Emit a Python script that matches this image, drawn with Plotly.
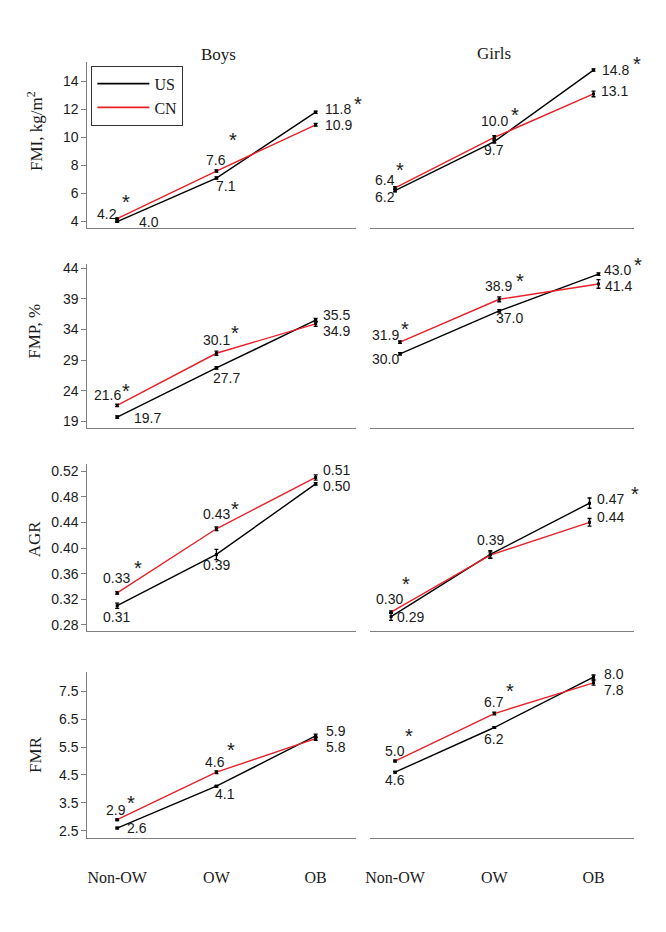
import plotly.graph_objects as go

# ---------------- data ----------------
categories = ["Non-OW", "OW", "OB"]
series_names = ["US", "CN"]

fmi_boys_us = [4.0, 7.1, 11.8]
fmi_boys_cn = [4.2, 7.6, 10.9]
fmi_girls_us = [6.2, 9.7, 14.8]
fmi_girls_cn = [6.4, 10.0, 13.1]

fmp_boys_us = [19.7, 27.7, 35.5]
fmp_boys_cn = [21.6, 30.1, 34.9]
fmp_girls_us = [30.0, 37.0, 43.0]
fmp_girls_cn = [31.9, 38.9, 41.4]

agr_boys_us = [0.31, 0.39, 0.50]
agr_boys_cn = [0.33, 0.43, 0.51]
agr_girls_us = [0.293, 0.390, 0.47]
agr_girls_cn = [0.300, 0.389, 0.44]

fmr_boys_us = [2.6, 4.1, 5.9]
fmr_boys_cn = [2.9, 4.6, 5.8]
fmr_girls_us = [4.6, 6.2, 8.0]
fmr_girls_cn = [5.0, 6.7, 7.8]

# error bar half-lengths
fmi_boys_us_err = [0.05, 0.08, 0.08]
fmi_boys_cn_err = [0.05, 0.08, 0.10]
fmi_girls_us_err = [0.08, 0.10, 0.08]
fmi_girls_cn_err = [0.08, 0.12, 0.20]

fmp_boys_us_err = [0.2, 0.2, 0.3]
fmp_boys_cn_err = [0.2, 0.35, 0.4]
fmp_girls_us_err = [0.2, 0.2, 0.2]
fmp_girls_cn_err = [0.2, 0.4, 0.7]

agr_boys_us_err = [0.004, 0.008, 0.002]
agr_boys_cn_err = [0.002, 0.003, 0.004]
agr_girls_us_err = [0.006, 0.006, 0.008]
agr_girls_cn_err = [0.002, 0.005, 0.006]

fmr_boys_us_err = [0.03, 0.03, 0.06]
fmr_boys_cn_err = [0.03, 0.05, 0.06]
fmr_girls_us_err = [0.03, 0.03, 0.08]
fmr_girls_cn_err = [0.03, 0.05, 0.08]

# significance flags (asterisks)
fmi_boys_sig = [1, 1, 1]
fmi_girls_sig = [1, 1, 1]
fmp_boys_sig = [1, 1, 0]
fmp_girls_sig = [1, 1, 1]
agr_boys_sig = [1, 1, 0]
agr_girls_sig = [1, 0, 1]
fmr_boys_sig = [1, 1, 0]
fmr_girls_sig = [1, 1, 0]

y_titles = ["FMI, kg/m<sup>2</sup>", "FMP, %", "AGR", "FMR"]
col_titles = ["Boys", "Girls"]

fmi_ticks = [4, 6, 8, 10, 12, 14]
fmp_ticks = [19, 24, 29, 34, 39, 44]
agr_ticks = [0.28, 0.32, 0.36, 0.40, 0.44, 0.48, 0.52]
fmr_ticks = [2.5, 3.5, 4.5, 5.5, 6.5, 7.5]

# ---------------- styles / layout config ----------------
COLORS = {"US": "#000000", "CN": "#e8202a"}
SANS = "Liberation Sans, Arial, sans-serif"
SERIF = "Liberation Serif, Times New Roman, serif"
AXIS_COLOR = "#7f7f7f"
TXT = "#1a1a1a"

PAGE_MARGIN = 8          # default body margin of the html page
W, H = 666 - 2 * PAGE_MARGIN, 932 - 2 * PAGE_MARGIN


def px_x(p):
    return (p - PAGE_MARGIN) / W


def px_y(p):
    return 1 - (p - PAGE_MARGIN) / H


col_px = [(83, 354), (368, 634)]
row_px = [(58, 225), (262, 427), (463, 631), (672, 839)]

rows = [
    dict(boys=(fmi_boys_us, fmi_boys_cn, fmi_boys_us_err, fmi_boys_cn_err, fmi_boys_sig),
         girls=(fmi_girls_us, fmi_girls_cn, fmi_girls_us_err, fmi_girls_cn_err, fmi_girls_sig),
         yrange=[3.57, 15.4], ticks=fmi_ticks, fmt="{:.0f}", dec=1),
    dict(boys=(fmp_boys_us, fmp_boys_cn, fmp_boys_us_err, fmp_boys_cn_err, fmp_boys_sig),
         girls=(fmp_girls_us, fmp_girls_cn, fmp_girls_us_err, fmp_girls_cn_err, fmp_girls_sig),
         yrange=[17.87, 44.6], ticks=fmp_ticks, fmt="{:.0f}", dec=1),
    dict(boys=(agr_boys_us, agr_boys_cn, agr_boys_us_err, agr_boys_cn_err, agr_boys_sig),
         girls=(agr_girls_us, agr_girls_cn, agr_girls_us_err, agr_girls_cn_err, agr_girls_sig),
         yrange=[0.2707, 0.531], ticks=agr_ticks, fmt="{:.2f}", dec=2),
    dict(boys=(fmr_boys_us, fmr_boys_cn, fmr_boys_us_err, fmr_boys_cn_err, fmr_boys_sig),
         girls=(fmr_girls_us, fmr_girls_cn, fmr_girls_us_err, fmr_girls_cn_err, fmr_girls_sig),
         yrange=[2.26, 8.2], ticks=fmr_ticks, fmt="{:.1f}", dec=1),
]

# x ranges per panel (row, col)
x_ranges = {
    (0, 0): [-0.30, 2.41], (1, 0): [-0.30, 2.41], (2, 0): [-0.30, 2.41], (3, 0): [-0.30, 2.41],
    (0, 1): [-0.25, 2.41], (1, 1): [-0.30, 2.36], (2, 1): [-0.21, 2.45], (3, 1): [-0.25, 2.41],
}

# value label placement: (anchor, dx px, dy px downward) per category
label_pos = {
    (0, 0): {"US": [("l", 22, 0), ("c", 10, 8), ("l", 9, -3)],
             "CN": [("c", -10, -5), ("c", 0, -11), ("l", 9, 0)],
             "star": [(9, -21), (17, -35), (42, -12)]},
    (0, 1): {"US": [("c", -10, 6), ("c", 0, 8), ("l", 8, 0)],
             "CN": [("c", -10, -8), ("c", 0, -16), ("l", 7, -3)],
             "star": [(5, -22), (21, -26), (43, -10)]},
    (1, 0): {"US": [("l", 17, 1), ("c", 10, 10), ("l", 7, -5)],
             "CN": [("c", -10, -10), ("c", 0, -13), ("l", 7, 7)],
             "star": [(9, -18), (19, -24), None]},
    (1, 1): {"US": [("c", -15, 5), ("c", 10, 7), ("l", 6, -4)],
             "CN": [("c", -15, -7), ("c", -1, -13), ("l", 7, 2)],
             "star": [(5, -17), (21, -22), (40, -13)]},
    (2, 0): {"US": [("c", -1, 11), ("c", 0, 11), ("l", 7, 2)],
             "CN": [("c", -1, -15), ("c", 0, -15), ("l", 7, -7)],
             "star": [(21, -29), (19, -24), None]},
    (2, 1): {"US": [("l", 6, 0), None, ("l", 7, -4)],
             "CN": [("c", -2, -13), ("c", 0, -15), ("l", 7, -5)],
             "star": [(15, -32), None, (45, -13)]},
    (3, 0): {"US": [("l", 10, 0), ("c", 9, 8), ("l", 10, -5)],
             "CN": [("c", -1, -10), ("c", -1, -10), ("l", 10, 8)],
             "star": [(14, -21), (15, -26), None]},
    (3, 1): {"US": [("c", 0, 8), ("c", 0, 11), ("l", 10, -3)],
             "CN": [("c", 0, -10), ("c", 0, -12), ("l", 10, 7)],
             "star": [(14, -29), (16, -27), None]},
}

y_title_px = [(30, 128), (30, 329), (30, 538), (30, 755)]
col_title_px = [(215, 51), (493, 50)]

# ---------------- build ----------------
fig = go.Figure()
layout = dict(width=W, height=H, margin=dict(l=0, r=0, t=0, b=0),
              paper_bgcolor="white", plot_bgcolor="white", showlegend=True)
annotations = []
xidx = list(range(len(categories)))

for r, rowcfg in enumerate(rows):
    for c, sex in enumerate(["boys", "girls"]):
        n = r * 2 + c + 1
        xa = "x" if n == 1 else f"x{n}"
        ya = "y" if n == 1 else f"y{n}"
        us, cn, us_e, cn_e, sig = rowcfg[sex]
        vals = {"US": us, "CN": cn}
        errs = {"US": us_e, "CN": cn_e}
        for name in series_names:
            fig.add_trace(go.Scatter(
                x=xidx, y=vals[name], mode="lines+markers", name=name,
                xaxis=xa, yaxis=ya, showlegend=False,
                line=dict(color=COLORS[name], width=1.4),
                marker=dict(symbol="square", size=3, color="#000000"),
                error_y=dict(type="data", array=errs[name], visible=True,
                             color="#000000", thickness=1.3, width=2),
                hoverinfo="skip"))
        # value labels
        pos = label_pos[(r, c)]
        for name in series_names:
            for i, v in enumerate(vals[name]):
                p = pos[name][i]
                if p is None:
                    continue
                anchor, dx, dy = p
                annotations.append(dict(
                    x=xidx[i], y=v, xref=xa, yref=ya, showarrow=False,
                    text=f"{v:.{rowcfg['dec']}f}",
                    xanchor={"l": "left", "c": "center", "r": "right"}[anchor],
                    yanchor="middle", xshift=dx, yshift=-dy,
                    borderpad=0, borderwidth=0,
                    font=dict(family=SANS, size=14, color=TXT)))
        # significance stars
        for i, s in enumerate(sig):
            if not s or pos["star"][i] is None:
                continue
            dx, dy = pos["star"][i]
            annotations.append(dict(
                x=xidx[i], y=max(us[i], cn[i]), xref=xa, yref=ya, showarrow=False,
                text="*", xanchor="center", yanchor="middle",
                xshift=dx, yshift=-dy - 4, borderpad=0, borderwidth=0,
                font=dict(family=SANS, size=20, color=TXT)))
        # axes
        x0, x1 = col_px[c]
        y0, y1 = row_px[r]
        layout["xaxis" if n == 1 else f"xaxis{n}"] = dict(
            domain=[px_x(x0), px_x(x1)], anchor=ya, range=x_ranges[(r, c)],
            showgrid=False, zeroline=False, showline=True, linecolor=AXIS_COLOR,
            linewidth=1.2, ticks="", tickvals=xidx, ticktext=categories,
            showticklabels=(r == 3), ticklabelstandoff=25,
            tickfont=dict(family=SERIF, size=16, color=TXT), fixedrange=True)
        layout["yaxis" if n == 1 else f"yaxis{n}"] = dict(
            domain=[px_y(y1), px_y(y0)], anchor=xa, range=rowcfg["yrange"],
            showgrid=False, zeroline=False, showline=(c == 0), linecolor=AXIS_COLOR,
            linewidth=1.2, ticks="outside" if c == 0 else "", ticklen=5,
            tickcolor=AXIS_COLOR, tickvals=rowcfg["ticks"],
            ticktext=[rowcfg["fmt"].format(t) for t in rowcfg["ticks"]],
            showticklabels=(c == 0),
            tickfont=dict(family=SANS, size=14, color=TXT), fixedrange=True)

# legend entries (line samples only)
for name in series_names:
    fig.add_trace(go.Scatter(x=[None], y=[None], mode="lines", name=name,
                             line=dict(color=COLORS[name], width=1.8),
                             xaxis="x", yaxis="y", showlegend=True, hoverinfo="skip"))

for r, t in enumerate(y_titles):
    px, py = y_title_px[r]
    annotations.append(dict(x=px_x(px), y=px_y(py), xref="paper", yref="paper",
                            text=t, textangle=-90, showarrow=False,
                            xanchor="center", yanchor="middle",
                            font=dict(family=SERIF, size=17, color=TXT)))
for c, t in enumerate(col_titles):
    px, py = col_title_px[c]
    annotations.append(dict(x=px_x(px), y=px_y(py), xref="paper", yref="paper",
                            text=t, showarrow=False, xanchor="center", yanchor="middle",
                            font=dict(family=SERIF, size=17, color=TXT)))

layout["annotations"] = annotations
layout["legend"] = dict(x=px_x(87), y=px_y(62), xanchor="left", yanchor="top",
                        bordercolor="#333333", borderwidth=1, bgcolor="white",
                        font=dict(family=SERIF, size=16, color=TXT),
                        itemwidth=52, tracegroupgap=0)
fig.update_layout(**layout)
fig.write_html("out.html")
